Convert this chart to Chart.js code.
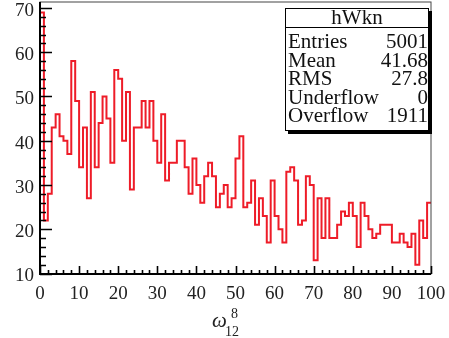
<!DOCTYPE html>
<html>
<head>
<meta charset="utf-8">
<script src="https://cdn.jsdelivr.net/npm/chart.js@4.4.1/dist/chart.umd.min.js"></script>
<style>
  html, body { margin: 0; padding: 0; background: #fff; }
  #wrap { width: 449px; height: 338px; }
</style>
</head>
<body>
<div id="wrap"><canvas id="histChart" width="449" height="338"></canvas></div>
<script>
// hWkn contents, 100 bins of width 1 on [0, 100]
const binCounts = [
  69, 22, 28, 43, 46, 41, 40, 37, 58, 49,
  34, 43, 27, 51, 34, 44, 50, 45, 35, 56,
  54, 40, 51, 29, 43, 43, 49, 43, 49, 40,
  35, 46, 31, 35, 35, 40, 40, 34, 28, 36,
  30, 26, 32, 35, 32, 25, 28, 30, 25, 27,
  36, 41, 25, 26, 31, 21, 27, 23, 17, 31,
  23, 20, 17, 33, 34, 31, 21, 22, 32, 30,
  13, 27, 18, 27, 18, 18, 21, 24, 23, 26,
  23, 16, 26, 23, 20, 18, 19, 21, 21, 21,
  17, 17, 19, 17, 16, 19, 12, 22, 18, 26
];
const binWidth = 1;
const xTicks = [0, 10, 20, 30, 40, 50, 60, 70, 80, 90, 100];
const yTicks = [10, 20, 30, 40, 50, 60, 70];
const statsTitle = 'hWkn';
const statsNames = ['Entries', 'Mean', 'RMS', 'Underflow', 'Overflow'];
const statsValues = ['5001', '41.68', '27.8', '0', '1911'];

// step outline: one point per bin low edge plus the last upper edge
const points = binCounts.map((c, i) => ({ x: i * binWidth, y: c }));
points.push({ x: binCounts.length * binWidth, y: binCounts[binCounts.length - 1] });

const serif = '"Liberation Serif", "DejaVu Serif", serif';

// frame, inward ticks, labels and the stats box, ROOT style
const rootFrame = {
  id: 'rootFrame',
  afterDatasetsDraw(chart) {
    const { ctx, chartArea: a, scales: { x, y } } = chart;
    ctx.save();

    ctx.strokeStyle = '#444';
    ctx.lineWidth = 1;
    ctx.strokeRect(a.left, a.top, a.right - a.left, a.bottom - a.top);

    ctx.strokeStyle = '#000';
    ctx.lineWidth = 2;
    ctx.beginPath();
    ctx.moveTo(a.left, a.top);
    ctx.lineTo(a.left, a.bottom);
    ctx.lineTo(a.right, a.bottom);
    ctx.stroke();

    // y ticks every 2, major every 10
    ctx.lineWidth = 1.6;
    ctx.beginPath();
    for (let v = yTicks[0]; v <= y.max; v += 2) {
      const py = Math.round(y.getPixelForValue(v)) + 0.5;
      const len = v % 10 === 0 ? 12 : 6;
      ctx.moveTo(a.left, py);
      ctx.lineTo(a.left + len, py);
    }
    // x ticks every 2, major every 10
    for (let v = xTicks[0]; v <= x.max; v += 2) {
      const px = Math.round(x.getPixelForValue(v)) + 0.5;
      const len = v % 10 === 0 ? 8 : 4;
      ctx.moveTo(px, a.bottom);
      ctx.lineTo(px, a.bottom - len);
    }
    ctx.stroke();

    ctx.fillStyle = '#222';
    ctx.font = '19px ' + serif;
    ctx.textAlign = 'right';
    ctx.textBaseline = 'middle';
    yTicks.forEach(v => ctx.fillText(String(v), a.left - 6, y.getPixelForValue(v) + 3));
    ctx.textAlign = 'center';
    ctx.textBaseline = 'top';
    xTicks.forEach(v => ctx.fillText(String(v), x.getPixelForValue(v), a.bottom + 11));

    // axis title: omega with superscript 8 and subscript 12
    ctx.textAlign = 'left';
    ctx.textBaseline = 'alphabetic';
    ctx.font = 'italic 21px ' + serif;
    ctx.fillText('\u03C9', 212, 327);
    ctx.font = '14px ' + serif;
    ctx.fillText('8', 231, 318);
    ctx.fillText('12', 225, 336);

    // stats box with drop shadow
    const bx = 285, by = 8, bw = 144, bh = 123;
    ctx.fillStyle = '#000';
    ctx.fillRect(bx + 3, by + bh, bw, 3);
    ctx.fillRect(bx + bw, by + 3, 3, bh);
    ctx.fillStyle = '#fff';
    ctx.fillRect(bx, by, bw, bh);
    ctx.strokeStyle = '#000';
    ctx.lineWidth = 1;
    ctx.strokeRect(bx + 0.5, by + 0.5, bw - 1, bh - 1);
    ctx.beginPath();
    ctx.moveTo(bx, by + 19.5);
    ctx.lineTo(bx + bw, by + 19.5);
    ctx.stroke();

    ctx.fillStyle = '#111';
    ctx.font = '21px ' + serif;
    ctx.textAlign = 'center';
    ctx.fillText(statsTitle, bx + bw / 2, by + 16);
    statsNames.forEach((name, i) => {
      const base = by + 40 + i * 18.6;
      ctx.textAlign = 'left';
      ctx.fillText(name, bx + 3, base);
      ctx.textAlign = 'right';
      ctx.fillText(statsValues[i], bx + bw - 1, base);
    });

    ctx.restore();
  }
};

new Chart(document.getElementById('histChart').getContext('2d'), {
  type: 'line',
  data: {
    datasets: [{
      data: points,
      stepped: true,
      borderColor: '#ee1c28',
      borderWidth: 2,
      pointRadius: 0,
      fill: false
    }]
  },
  options: {
    responsive: false,
    animation: false,
    layout: { padding: { left: 40, right: 18, top: 2, bottom: 64 } },
    scales: {
      x: { type: 'linear', min: 0, max: 100, display: false },
      y: { type: 'linear', min: 9.89, max: 71.35, display: false }
    },
    plugins: { legend: { display: false }, tooltip: { enabled: false } }
  },
  plugins: [rootFrame]
});
</script>
</body>
</html>
